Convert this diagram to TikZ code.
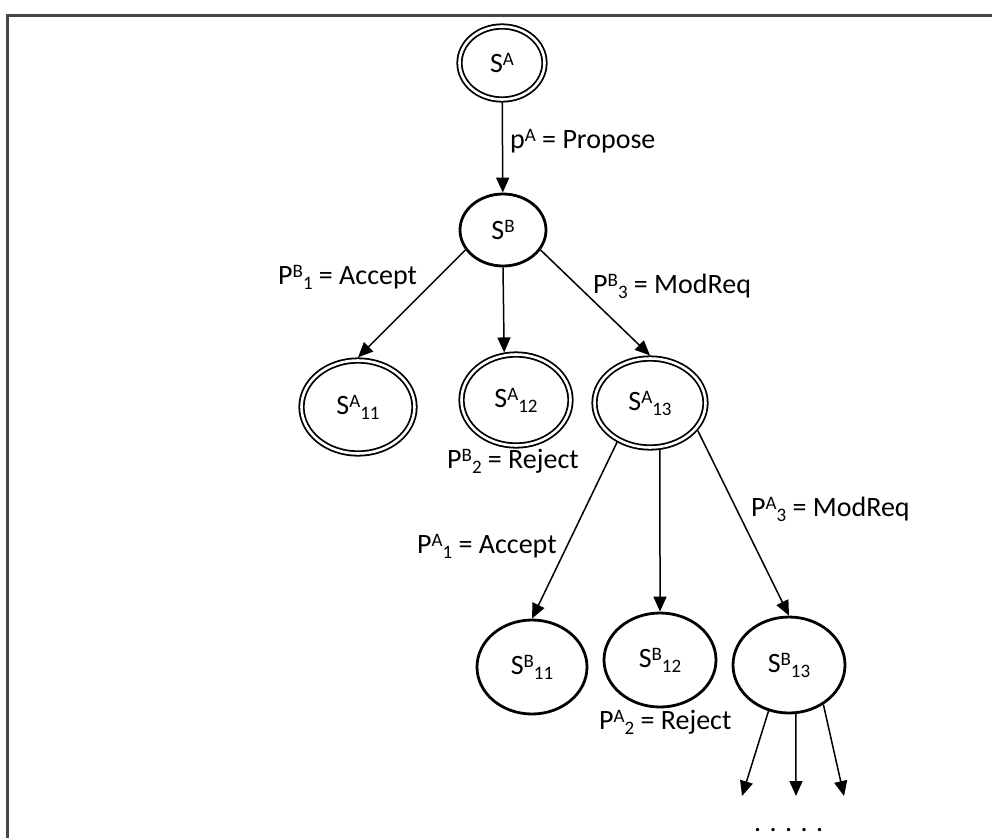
\documentclass[tikz,border=0pt]{standalone}
\usepackage{fontspec}
\setmainfont{Carlito}
\usetikzlibrary{shapes.geometric,arrows.meta}
\newcommand\sups[1]{\raisebox{7pt}{\fontsize{19}{19}\selectfont #1}}
\newcommand\subs[1]{\raisebox{-5pt}{\fontsize{19}{19}\selectfont #1}}
\begin{document}
\begin{tikzpicture}[x=1pt,y=-1pt,
  every node/.style={font=\fontsize{28}{32}\selectfont},
  st/.style={ellipse, draw, line width=2.8pt, inner sep=0pt},
  dst/.style={ellipse, draw, line width=1.8pt, double, double distance=2.6pt, inner sep=0pt, outer sep=3.1pt},
  arr/.style={line width=1.5pt, -{Triangle[length=15pt,width=13pt]}},
  lbl/.style={anchor=base west, inner sep=0pt}
]
\useasboundingbox (0,0) rectangle (992,838);
\draw[line width=2.5pt, gray!55!black] (7.5,838) -- (7.5,15.5) -- (992,15.5);

% nodes
\node[dst, minimum width=85, minimum height=73] (SA) at (502,63) {S\sups{A}};
\node[st, minimum width=86, minimum height=72] (SB) at (503,230) {S\sups{B}};
\node[dst, minimum width=113, minimum height=93] (SA11) at (358,407) {S\sups{A}\subs{11}};
\node[dst, minimum width=109, minimum height=91] (SA12) at (516,400) {S\sups{A}\subs{12}};
\node[dst, minimum width=111, minimum height=89] (SA13) at (650,403) {S\sups{A}\subs{13}};
\node[st, minimum width=110, minimum height=94] (SB11) at (532,667) {S\sups{B}\subs{11}};
\node[st, minimum width=112, minimum height=94] (SB12) at (660,660) {S\sups{B}\subs{12}};
\node[st, minimum width=112, minimum height=96] (SB13) at (789,665) {S\sups{B}\subs{13}};

\coordinate (d1) at (742,796);
\coordinate (d2) at (796,796);
\coordinate (d3) at (844,796);

% connectors
\draw[arr] (SA) -- (SB);
\draw[arr] (SB.208) -- (SA11.north);
\draw[arr] (SB.south) -- (SA12.104);
\draw[arr] (SB.332) -- (SA13.north);
\draw[arr] (SA13.230) -- (SB11.north);
\draw[arr] (SA13.282) -- (SB12.north);
\draw[arr] (SA13.330) -- (SB13.north);
\draw[arr] (SB13.246) -- (d1);
\draw[arr] (SB13.278) -- (d2);
\draw[arr] (SB13.311) -- (d3);

% labels
\node[lbl] (l0) at (510,148) {p\sups{A} = Propose};
\node[lbl] (l1) at (278,284) {P\sups{B}\subs{1} = Accept};
\node[lbl] (l2) at (447,468) {P\sups{B}\subs{2} = Reject};
\node[lbl] (l3) at (593,293) {P\sups{B}\subs{3} = ModReq};
\node[lbl] (l4) at (417,553) {P\sups{A}\subs{1} = Accept};
\node[lbl] (l5) at (599,729) {P\sups{A}\subs{2} = Reject};
\node[lbl] (l6) at (751,516) {P\sups{A}\subs{3} = ModReq};
\node[lbl] (dots) at (754,831) {. . . . .};
\end{tikzpicture}
\end{document}
